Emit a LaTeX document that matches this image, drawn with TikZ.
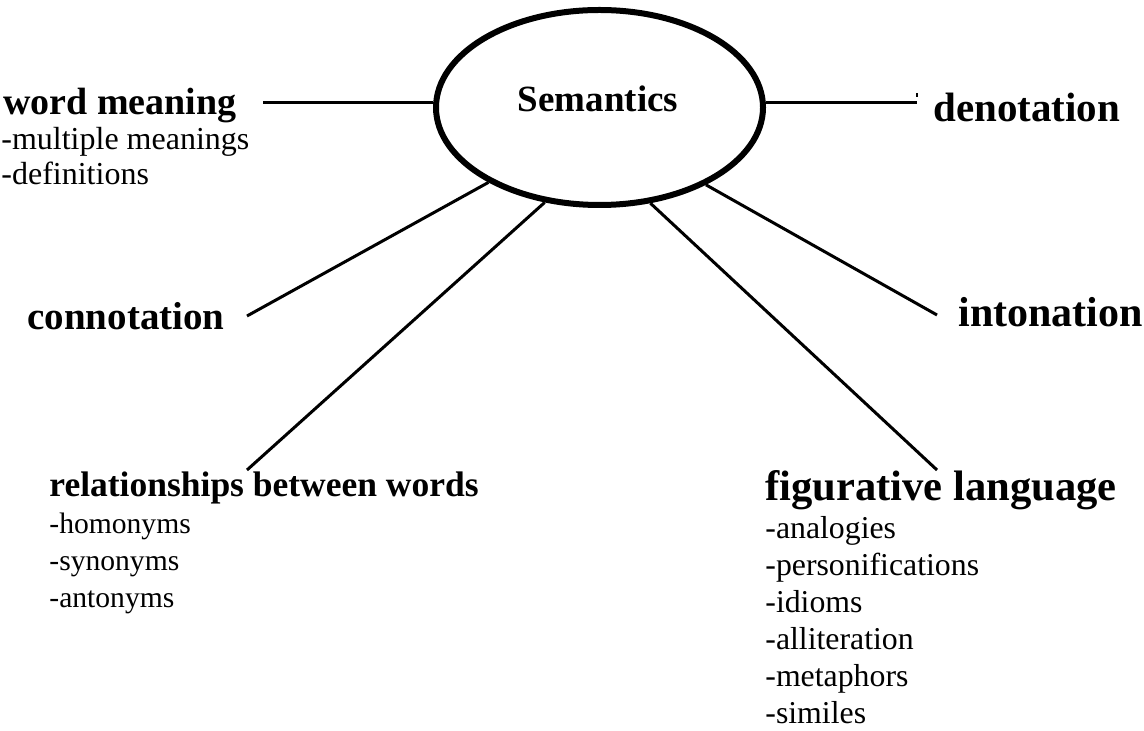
\documentclass[tikz,border=0pt]{standalone}
\usepackage{fontspec}
\setmainfont{Liberation Serif}
\usepackage{tikz}
\usetikzlibrary{shapes.geometric}
\tikzset{
  hub/.style={ellipse, draw=black, line width=3pt, inner sep=0pt,
              minimum width=163.5pt, minimum height=97.5pt},
  topic/.style={anchor=base west, inner sep=0pt, font=\bfseries},
  items/.style={anchor=base west, inner sep=0pt, align=left},
  spoke/.style={draw=black, line width=1.5pt},
}

\begin{document}
\begin{tikzpicture}[x=0.5pt, y=-0.5pt]
  \useasboundingbox (0,0) rectangle (1144,731);

  \node[hub] (sem) at (599.5,107.5) {};
  \node[topic, anchor=base, font=\bfseries\fontsize{18.5}{22}\selectfont] (semlbl) at (598,112) {Semantics};

  \node[topic, font=\bfseries\fontsize{19}{22}\selectfont] (wm) at (3,115) {word meaning};
  % lists sit on the baseline of their last line
  \node[items, font=\fontsize{16}{17.5}\selectfont] (wmlist) at (1,185)
    {-multiple meanings\\ -definitions};
  \node[topic, font=\bfseries\fontsize{20.5}{24}\selectfont] (dn) at (933,122) {denotation};
  \node[topic, font=\bfseries\fontsize{19.5}{23}\selectfont] (cn) at (27,330) {connotation};
  \node[topic, font=\bfseries\fontsize{21}{24}\selectfont] (in) at (958,327) {intonation};
  \node[topic, font=\bfseries\fontsize{17.75}{21}\selectfont] (rel) at (49,496) {relationships between words};
  \node[items, font=\fontsize{14.8}{18.5}\selectfont] (rellist) at (49,607)
    {-homonyms\\ -synonyms\\ -antonyms};
  \node[topic, font=\bfseries\fontsize{21.3}{25}\selectfont] (fig) at (765,500) {figurative language};
  \node[items, font=\fontsize{15.9}{18.5}\selectfont] (figlist) at (765,723)
    {-analogies\\ -personifications\\ -idioms\\ -alliteration\\ -metaphors\\ -similes};

  % free ends of the spokes
  \coordinate (wmend) at (263,103);
  \coordinate (dnend) at (917,103);
  \coordinate (cnend) at (247,316);
  \coordinate (inend) at (937,315);
  \coordinate (relend) at (247,470);
  \coordinate (figend) at (937,470);

  \draw[spoke] (wmend) -- (wmend -| sem.west);
  \draw[spoke] (sem.east |- dnend) -- (dnend);
  \draw[line width=0.6pt] (dnend) ++(0,-6) coordinate (tick) -- ++(0,-4);
  \draw[spoke] (cnend) -- (sem.214.8);
  \draw[spoke] (relend) -- (sem.240.7);
  \draw[spoke] (figend) -- (sem.298);
  \draw[spoke] (inend) -- (sem.324.8);
\end{tikzpicture}
\end{document}
